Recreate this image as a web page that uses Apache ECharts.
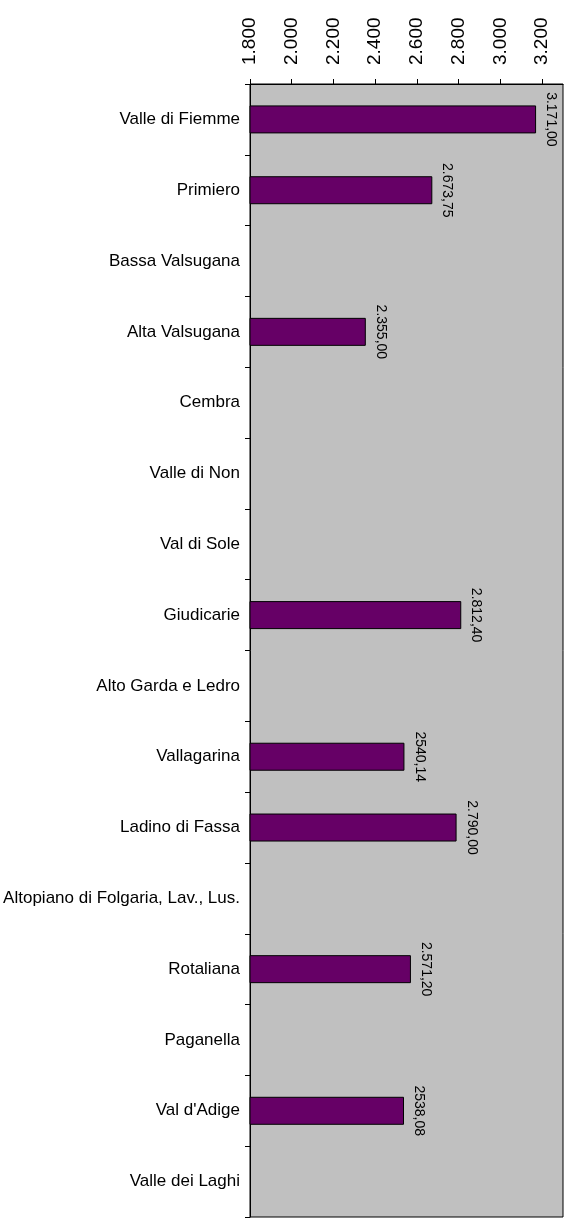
<!DOCTYPE html>
<html>
<head>
<meta charset="utf-8">
<script src="https://cdn.jsdelivr.net/npm/echarts@6/dist/echarts.min.js"></script>
<style>
html,body{margin:0;padding:0;background:#fff;}
#chart{width:572px;height:1224px;}
</style>
</head>
<body>
<div id="chart"></div>
<script>
const categories = [
  "Valle di Fiemme", "Primiero", "Bassa Valsugana", "Alta Valsugana", "Cembra",
  "Valle di Non", "Val di Sole", "Giudicarie", "Alto Garda e Ledro", "Vallagarina",
  "Ladino di Fassa", "Altopiano di Folgaria, Lav., Lus.", "Rotaliana", "Paganella",
  "Val d'Adige", "Valle dei Laghi"
];
const values = [3171.00, 2673.75, null, 2355.00, null, null, null, 2812.40, null, 2540.14, 2790.00, null, 2571.20, null, 2538.08, null];
const valueLabels = ["3.171,00", "2.673,75", "", "2.355,00", "", "", "", "2.812,40", "", "2540,14", "2.790,00", "", "2.571,20", "", "2538,08", ""];
const axisMin = 1800, axisMax = 3300, axisStep = 200;

const font = "'Liberation Sans', Arial, sans-serif";
const chart = echarts.init(document.getElementById('chart'), null, {renderer: 'canvas'});
chart.setOption({
  animation: false,
  backgroundColor: '#ffffff',
  grid: {
    left: 250, right: 9, top: 84, bottom: 7,
    show: true, backgroundColor: '#c0c0c0', borderColor: '#000', borderWidth: 1
  },
  xAxis: {
    type: 'value', position: 'top', min: axisMin, max: axisMax, interval: axisStep,
    axisLine: {show: true, lineStyle: {color: '#000', width: 1}},
    axisTick: {show: true, length: 5, lineStyle: {color: '#000'}},
    splitLine: {show: false},
    axisLabel: {
      rotate: -90, margin: 19, color: '#000', fontFamily: font, fontSize: 19,
      showMaxLabel: false, hideOverlap: false,
      formatter: v => v.toFixed(0).replace(/\B(?=(\d{3})+(?!\d))/g, '.')
    }
  },
  yAxis: {
    type: 'category', data: categories, inverse: true,
    axisLine: {show: true, lineStyle: {color: '#000', width: 1}},
    axisTick: {show: true, length: 5, lineStyle: {color: '#000'}},
    axisLabel: {color: '#000', fontFamily: font, fontSize: 17, margin: 10}
  },
  series: [{
    type: 'bar', data: values, barWidth: 28,
    itemStyle: {color: '#660066', borderColor: '#000', borderWidth: 1},
    label: {
      show: true, position: 'right', rotate: -90, distance: 8,
      align: 'center', verticalAlign: 'bottom',
      color: '#000', fontFamily: font, fontSize: 14,
      formatter: p => valueLabels[p.dataIndex]
    }
  }]
});
</script>
</body>
</html>
